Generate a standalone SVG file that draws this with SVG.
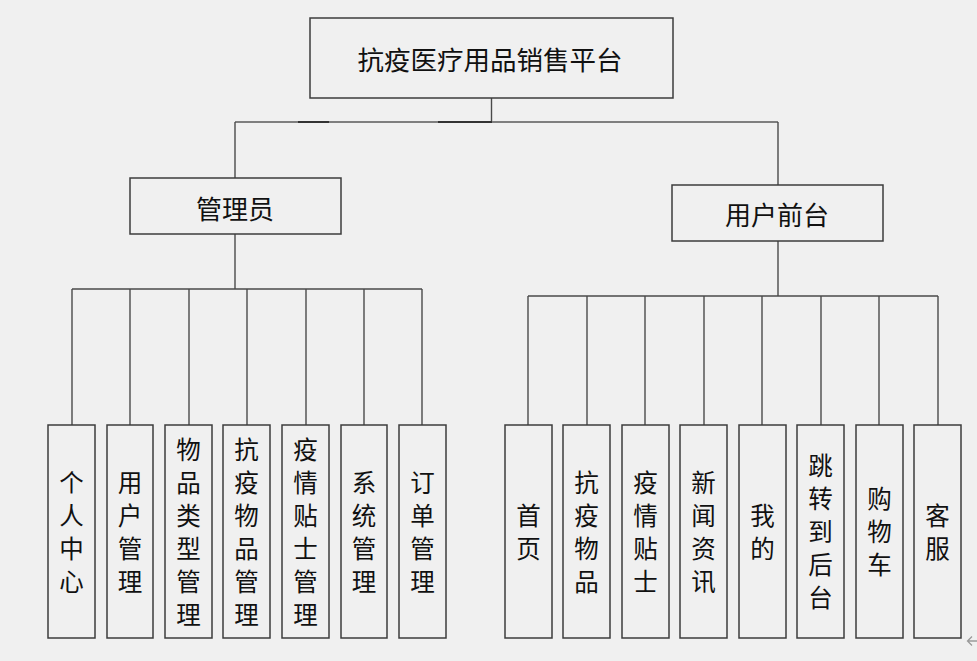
<svg xmlns="http://www.w3.org/2000/svg" width="977" height="661" viewBox="0 0 977 661">
<style>
.bg{fill:#f0f0f0}
.box{fill:#f0f0f0;stroke:#3c3c3c;stroke-width:1.5}
.t{font-family:"Noto Sans CJK SC","Microsoft YaHei",sans-serif;fill:#111;text-anchor:middle;dominant-baseline:central}
.big{font-size:26.5px}
.mid{font-size:26px}
.leaf{font-size:24.5px}
.c{fill:none;stroke:#4a4a4a;stroke-width:1.4}
.cg{fill:none;stroke:#7f7f7f;stroke-width:2}
.cd{fill:none;stroke:#333;stroke-width:2.2}
</style>
<rect class="bg" x="0" y="0" width="977" height="661"/>
<g id="connectors">
  <path class="c" d="M491.5 98V122"/>
  <path class="cg" d="M235 122H778"/>
  <path class="cd" d="M298 122H329M438 122H492"/>
  <path class="c" d="M235 122V178M778 122V185"/>
  <path class="c" d="M235 234V289M72 289H422M72 289V425M130 289V425M189 289V425M247 289V425M306 289V425M364 289V425M422 289V425"/>
  <path class="c" d="M778 241V296M528 296H938M528 296V425M587 296V425M645 296V425M704 296V425M762 296V425M821 296V425M879 296V425M938 296V425"/>
</g>
<g id="root"><rect class="box" x="310" y="18" width="363" height="80"/><text class="t big" x="490" y="58">抗疫医疗用品销售平台</text></g>
<g id="admin"><rect class="box" x="130" y="178" width="211" height="56"/><text class="t mid" x="235" y="207">管理员</text></g>
<g id="front"><rect class="box" x="672" y="185" width="211" height="56"/><text class="t mid" x="777" y="213">用户前台</text></g>
<g id="n1"><rect class="box" x="48" y="425" width="47" height="213"/><text class="t leaf" x="71.5"><tspan x="71.5" y="481">个</tspan><tspan x="71.5" y="514">人</tspan><tspan x="71.5" y="547">中</tspan><tspan x="71.5" y="580">心</tspan></text></g>
<g id="n2"><rect class="box" x="107" y="425" width="46" height="213"/><text class="t leaf" x="130"><tspan x="130" y="481">用</tspan><tspan x="130" y="514">户</tspan><tspan x="130" y="547">管</tspan><tspan x="130" y="580">理</tspan></text></g>
<g id="n3"><rect class="box" x="165" y="425" width="47" height="213"/><text class="t leaf" x="188.5"><tspan x="188.5" y="448">物</tspan><tspan x="188.5" y="481">品</tspan><tspan x="188.5" y="514">类</tspan><tspan x="188.5" y="547">型</tspan><tspan x="188.5" y="580">管</tspan><tspan x="188.5" y="613">理</tspan></text></g>
<g id="n4"><rect class="box" x="223" y="425" width="47" height="213"/><text class="t leaf" x="246.5"><tspan x="246.5" y="448">抗</tspan><tspan x="246.5" y="481">疫</tspan><tspan x="246.5" y="514">物</tspan><tspan x="246.5" y="547">品</tspan><tspan x="246.5" y="580">管</tspan><tspan x="246.5" y="613">理</tspan></text></g>
<g id="n5"><rect class="box" x="282" y="425" width="47" height="213"/><text class="t leaf" x="305.5"><tspan x="305.5" y="448">疫</tspan><tspan x="305.5" y="481">情</tspan><tspan x="305.5" y="514">贴</tspan><tspan x="305.5" y="547">士</tspan><tspan x="305.5" y="580">管</tspan><tspan x="305.5" y="613">理</tspan></text></g>
<g id="n6"><rect class="box" x="341" y="425" width="46" height="213"/><text class="t leaf" x="364"><tspan x="364" y="481">系</tspan><tspan x="364" y="514">统</tspan><tspan x="364" y="547">管</tspan><tspan x="364" y="580">理</tspan></text></g>
<g id="n7"><rect class="box" x="399" y="425" width="47" height="213"/><text class="t leaf" x="422.5"><tspan x="422.5" y="481">订</tspan><tspan x="422.5" y="514">单</tspan><tspan x="422.5" y="547">管</tspan><tspan x="422.5" y="580">理</tspan></text></g>
<g id="m1"><rect class="box" x="505" y="425" width="47" height="213"/><text class="t leaf" x="528.5"><tspan x="528.5" y="514">首</tspan><tspan x="528.5" y="547">页</tspan></text></g>
<g id="m2"><rect class="box" x="563" y="425" width="47" height="213"/><text class="t leaf" x="586.5"><tspan x="586.5" y="481">抗</tspan><tspan x="586.5" y="514">疫</tspan><tspan x="586.5" y="547">物</tspan><tspan x="586.5" y="580">品</tspan></text></g>
<g id="m3"><rect class="box" x="622" y="425" width="47" height="213"/><text class="t leaf" x="645.5"><tspan x="645.5" y="481">疫</tspan><tspan x="645.5" y="514">情</tspan><tspan x="645.5" y="547">贴</tspan><tspan x="645.5" y="580">士</tspan></text></g>
<g id="m4"><rect class="box" x="680" y="425" width="47" height="213"/><text class="t leaf" x="703.5"><tspan x="703.5" y="481">新</tspan><tspan x="703.5" y="514">闻</tspan><tspan x="703.5" y="547">资</tspan><tspan x="703.5" y="580">讯</tspan></text></g>
<g id="m5"><rect class="box" x="739" y="425" width="47" height="213"/><text class="t leaf" x="762.5"><tspan x="762.5" y="514">我</tspan><tspan x="762.5" y="547">的</tspan></text></g>
<g id="m6"><rect class="box" x="797" y="425" width="47" height="213"/><text class="t leaf" x="820.5"><tspan x="820.5" y="464">跳</tspan><tspan x="820.5" y="497">转</tspan><tspan x="820.5" y="530">到</tspan><tspan x="820.5" y="563">后</tspan><tspan x="820.5" y="596">台</tspan></text></g>
<g id="m7"><rect class="box" x="856" y="425" width="47" height="213"/><text class="t leaf" x="879.5"><tspan x="879.5" y="497">购</tspan><tspan x="879.5" y="530">物</tspan><tspan x="879.5" y="563">车</tspan></text></g>
<g id="m8"><rect class="box" x="914" y="425" width="47" height="213"/><text class="t leaf" x="937.5"><tspan x="937.5" y="514">客</tspan><tspan x="937.5" y="547">服</tspan></text></g>
<path d="M977 641H968M972 636.5L967.5 641L972 645.5" fill="none" stroke="#9a9a9a" stroke-width="1.3"/>
</svg>
